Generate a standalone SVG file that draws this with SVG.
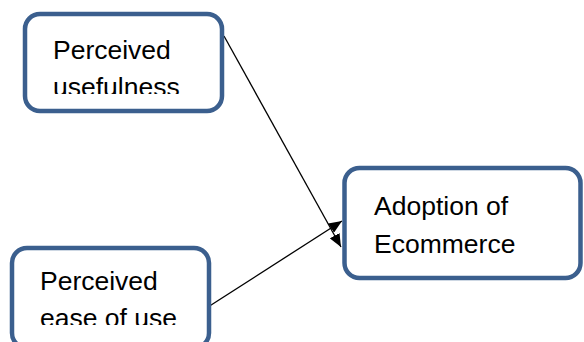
<svg xmlns="http://www.w3.org/2000/svg" width="584" height="342" viewBox="0 0 584 342">
<style>
.box{fill:#fff;stroke:#3B5F8E;stroke-width:4.5}
.lbl{font-family:"Liberation Sans",Arial,sans-serif;font-size:26.5px;fill:#000}
.conn{stroke:#000;stroke-width:1.3;fill:none}
</style>
<defs>
<marker id="ah" viewBox="0 0 13 11" refX="13" refY="5.5" markerWidth="13" markerHeight="11" markerUnits="userSpaceOnUse" orient="auto">
<path d="M0,0 L13,5.5 L0,11 Z" fill="#000"/>
</marker>
<clipPath id="c1"><rect x="27" y="16" width="193" height="78"/></clipPath>
<clipPath id="c2"><rect x="14" y="250" width="193" height="75"/></clipPath>
</defs>
<g id="connectors">
<line class="conn" x1="224" y1="36" x2="341" y2="247" marker-end="url(#ah)"/>
<line class="conn" x1="208" y1="307" x2="342" y2="221" marker-end="url(#ah)"/>
</g>
<g id="node-usefulness">
<rect class="box" x="25" y="14" width="197" height="97" rx="15"/>
<g clip-path="url(#c1)">
<text class="lbl" x="53" y="59">Perceived</text>
<text class="lbl" x="53" y="96">usefulness</text>
</g>
</g>
<g id="node-ease">
<rect class="box" x="12" y="248" width="197" height="100" rx="15"/>
<g clip-path="url(#c2)">
<text class="lbl" x="40" y="290">Perceived</text>
<text class="lbl" x="40" y="327">ease of use</text>
</g>
</g>
<g id="node-adoption">
<rect class="box" x="344.5" y="168" width="236" height="110" rx="15"/>
<text class="lbl" x="374" y="215">Adoption of</text>
<text class="lbl" x="374" y="253">Ecommerce</text>
</g>
</svg>
